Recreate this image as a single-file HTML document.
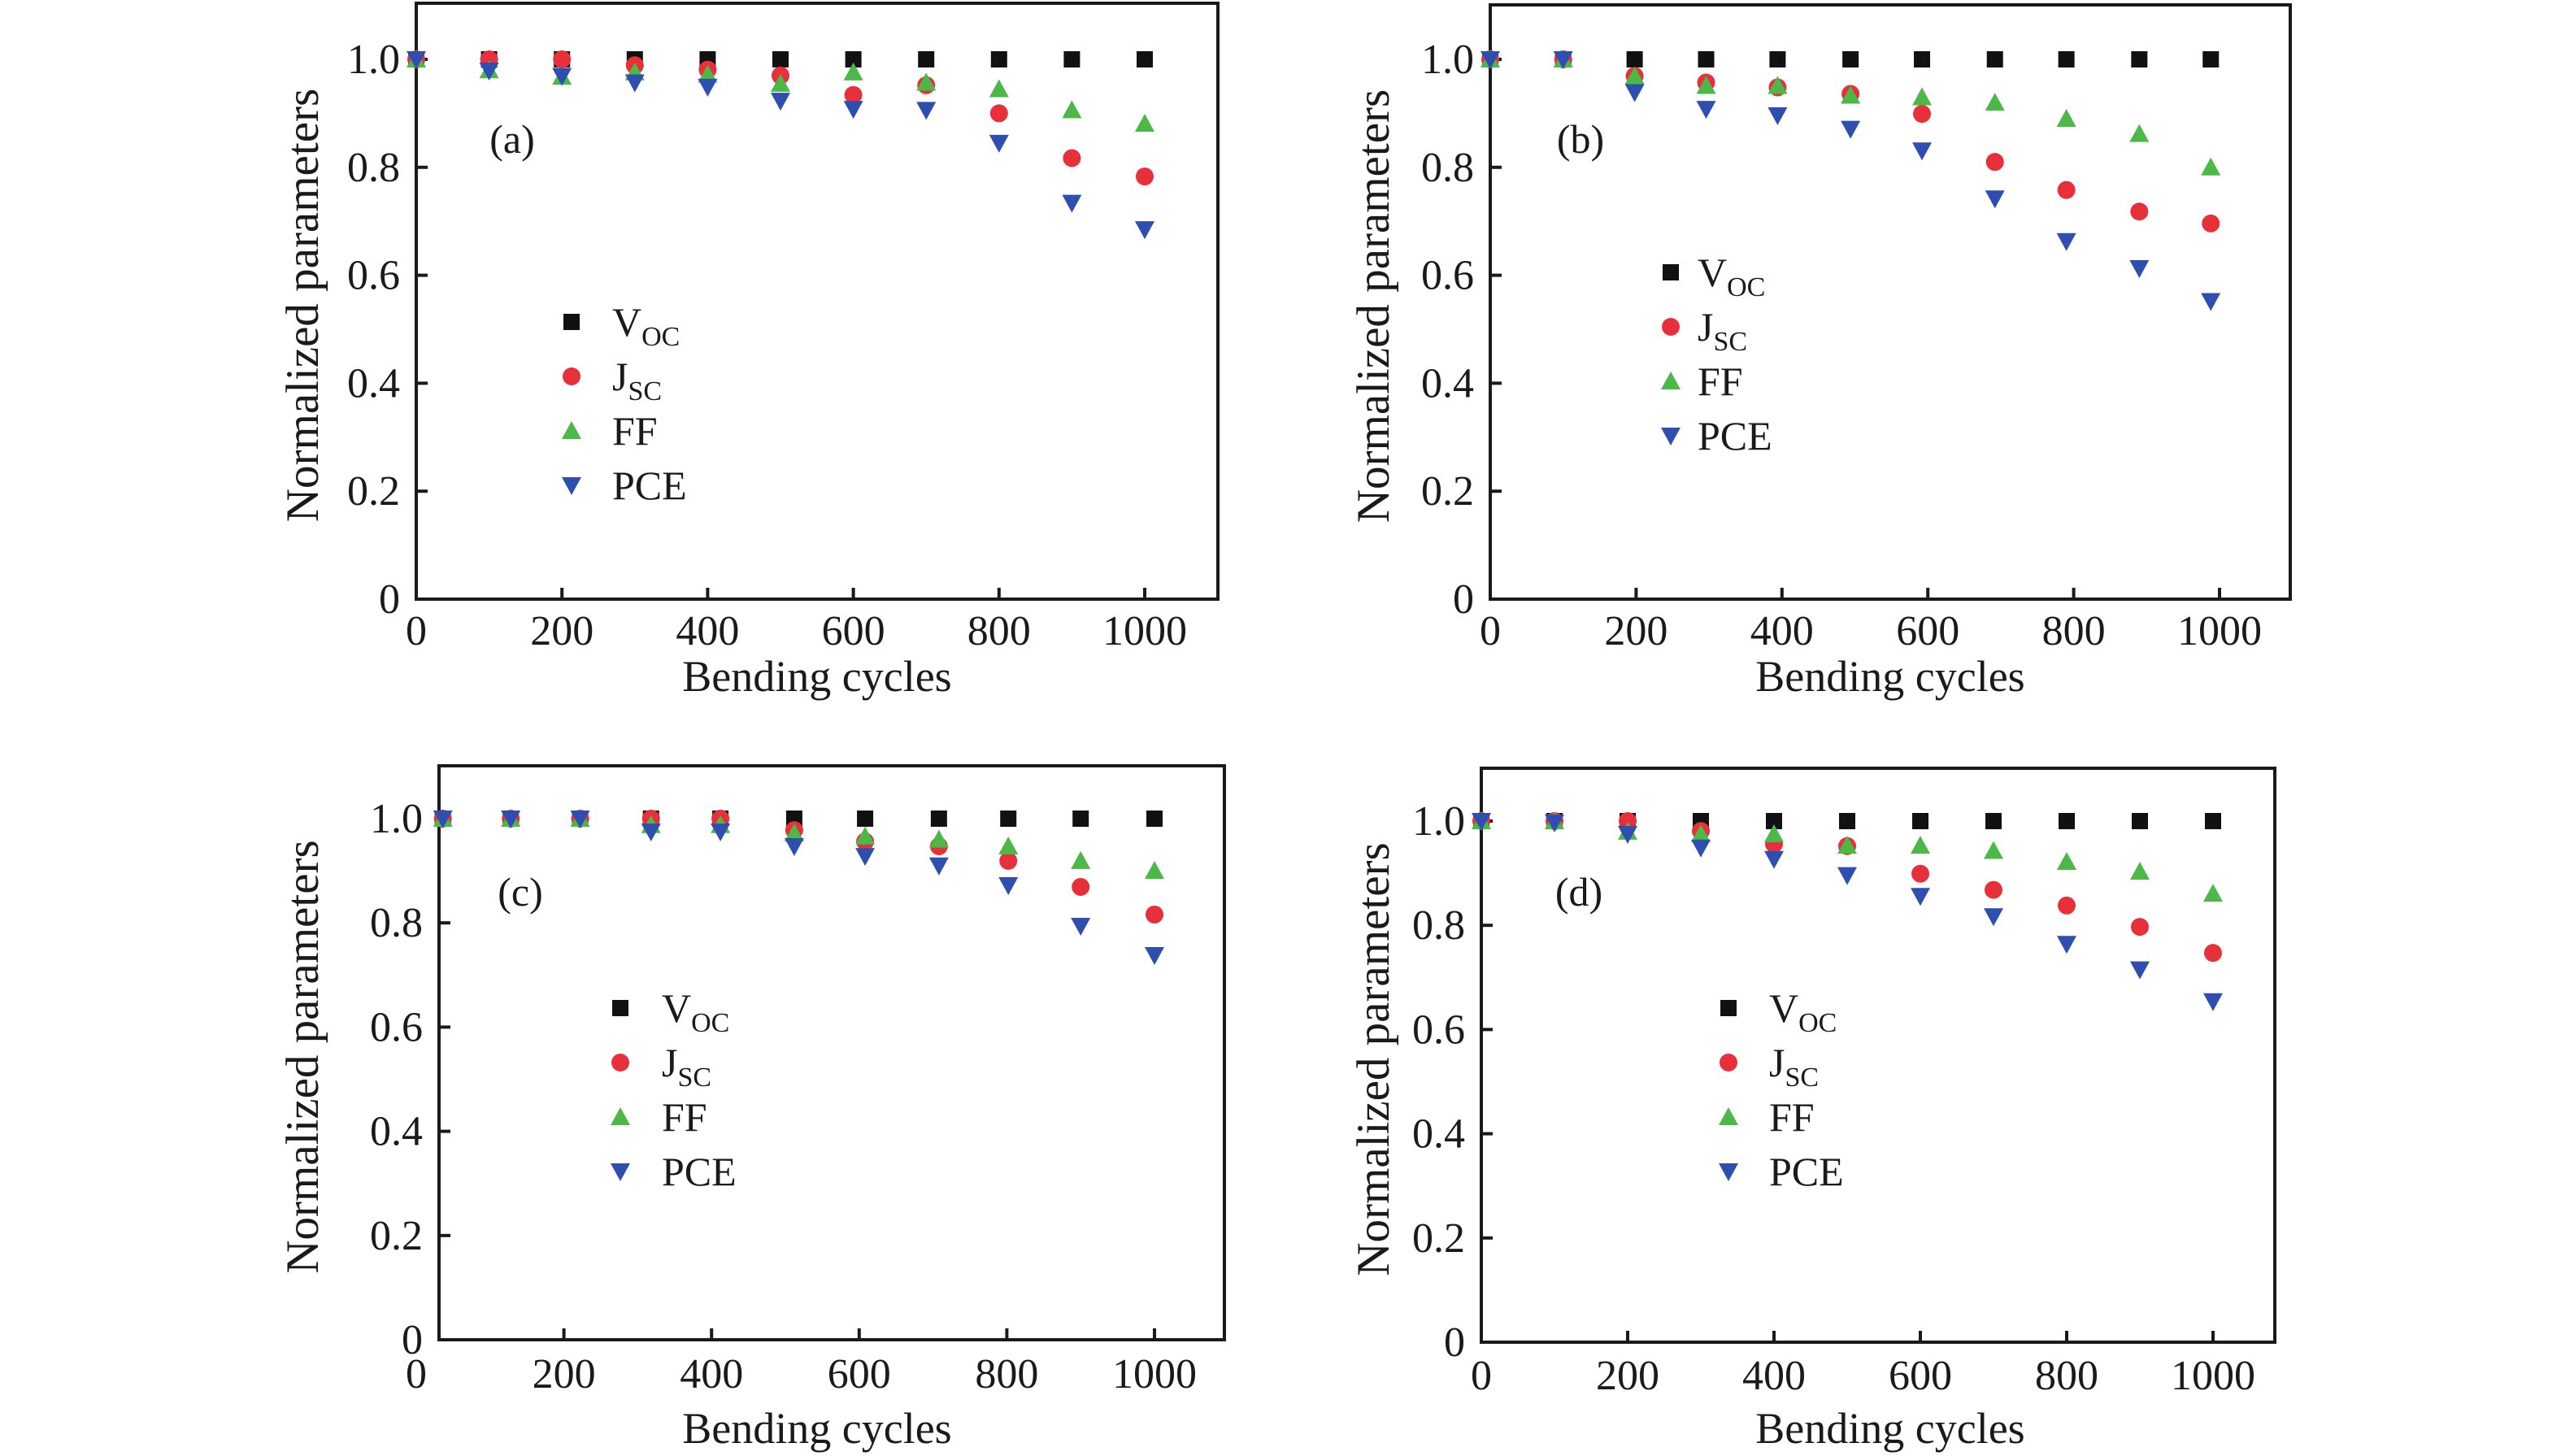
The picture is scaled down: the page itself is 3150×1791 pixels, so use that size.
<!DOCTYPE html>
<html><head><meta charset="utf-8"><style>
html,body{margin:0;padding:0;background:#fff;}
svg{display:block;font-family:"Liberation Serif","DejaVu Serif",serif;}
</style></head><body>
<svg id="fig" width="3150" height="1791" viewBox="0 0 3150 1791" xmlns="http://www.w3.org/2000/svg"></svg>
<script>
// x values (bending cycles)
const cyclesStd = [0,100,200,300,400,500,600,700,800,900,1000];
const cyclesB = [0,100,198,296,394,494,592,692,790,890,988];
const cyclesC = [36,128,222,318,412,512,608,708,802,900,1000];
const xTicks = [0,200,400,600,800,1000];
const yTicks = [0,0.2,0.4,0.6,0.8,1.0];
const yTickLabels = ["0","0.2","0.4","0.6","0.8","1.0"];
// panel (a)
const aVoc = [1,1,1,1,1,1,1,1,1,1,1];
const aJsc = [1,1.0,1.0,0.989,0.981,0.970,0.934,0.952,0.900,0.817,0.783];
const aFF  = [1,0.980,0.968,0.976,0.972,0.955,0.976,0.957,0.945,0.906,0.881];
const aPce = [1,0.979,0.969,0.957,0.949,0.923,0.908,0.906,0.845,0.734,0.685];
// panel (b)
const bVoc = [1,1,1,1,1,1,1,1,1,1,1];
const bJsc = [1,1,0.969,0.957,0.948,0.936,0.899,0.810,0.758,0.718,0.696];
const bFF  = [1,1,0.969,0.951,0.951,0.933,0.930,0.920,0.890,0.862,0.800];
const bPce = [1,1,0.939,0.908,0.896,0.871,0.831,0.742,0.663,0.613,0.552];
// panel (c)
const cVoc = [1,1,1,1,1,1,1,1,1,1,1];
const cJsc = [1,1,1,1.0,1.0,0.978,0.956,0.947,0.919,0.869,0.816];
const cFF  = [1,1,1,0.988,0.988,0.972,0.966,0.960,0.947,0.919,0.900];
const cPce = [1,1,1,0.975,0.975,0.947,0.928,0.910,0.872,0.794,0.738];
// panel (d)
const dVoc = [1,1,1,1,1,1,1,1,1,1,1];
const dJsc = [1,1,1.0,0.981,0.956,0.952,0.899,0.868,0.838,0.797,0.747];
const dFF  = [1,1,0.980,0.975,0.975,0.953,0.953,0.943,0.922,0.903,0.861];
const dPce = [1,0.997,0.975,0.949,0.927,0.896,0.856,0.817,0.764,0.715,0.654];

const NS = "http://www.w3.org/2000/svg";
const svg = document.getElementById('fig');
function mk(tag, attrs, parent){
  const e = document.createElementNS(NS, tag);
  for (const k in attrs) e.setAttribute(k, attrs[k]);
  (parent||svg).appendChild(e);
  return e;
}
const COL = {voc:'#111111', jsc:'#e8303a', ff:'#4cb848', pce:'#2e4fb0'};
function marker(g, type, cx, cy){
  let e;
  if (type==='voc'){ e = mk('rect',{x:cx-10,y:cy-10,width:20,height:20,fill:COL.voc},g); }
  else if (type==='jsc'){ e = mk('circle',{cx:cx,cy:cy,r:11,fill:COL.jsc},g); }
  else if (type==='ff'){ e = mk('polygon',{points:`${cx},${cy-12} ${cx+12},${cy+10} ${cx-12},${cy+10}`,fill:COL.ff},g); }
  else { e = mk('polygon',{points:`${cx-12},${cy-10} ${cx+12},${cy-10} ${cx},${cy+12}`,fill:COL.pce},g); }
  return e;
}
const panels = [
  {id:'a', L:512,T:4,R:1498,B:737, x0:512,x1k:1408, y0:737,y1:73, xs:cyclesStd,
   ser:{voc:aVoc,jsc:aJsc,ff:aFF,pce:aPce}, lab:[630,172], leg:[703,396,753], yt:372, xt:793, xtitle:[1005,850]},
  {id:'b', L:1833,T:6,R:2817,B:737, x0:1833,x1k:2730, y0:737,y1:73, xs:cyclesB,
   ser:{voc:bVoc,jsc:bJsc,ff:bFF,pce:bPce}, lab:[1944,172], leg:[2055,335,2088], yt:1689, xt:793, xtitle:[2325,850]},
  {id:'c', L:540,T:942,R:1506,B:1648, x0:512,x1k:1420, y0:1648,y1:1007, xs:cyclesC,
   ser:{voc:cVoc,jsc:cJsc,ff:cFF,pce:cPce}, lab:[640,1098], leg:[763,1240,814], yt:372, xt:1707, xtitle:[1005,1775]},
  {id:'d', L:1822,T:945,R:2798,B:1651, x0:1822,x1k:2722, y0:1651,y1:1010, xs:cyclesStd,
   ser:{voc:dVoc,jsc:dJsc,ff:dFF,pce:dPce}, lab:[1942,1098], leg:[2126,1240,2176], yt:1689, xt:1709, xtitle:[2325,1775]}
];
panels.forEach(p=>{
  const g = mk('g',{});
  
  
  const xf = v => p.x0 + (p.x1k-p.x0)*v/1000;
  const yf = v => p.y0 - (p.y0-p.y1)*v;
  const frame = mk('rect',{x:p.L,y:p.T,width:p.R-p.L,height:p.B-p.T,fill:'none',stroke:'#1a1a1a','stroke-width':4},g);
  
  
  xTicks.forEach(t=>{
    const x = xf(t);
    if (x > p.L+2) mk('line',{x1:x,y1:p.B,x2:x,y2:p.B-14,stroke:'#1a1a1a','stroke-width':4},g);
    const tl = mk('text',{x:x,y:p.xt,'font-size':52,'text-anchor':'middle',fill:'#1a1a1a'},g);
    tl.textContent = String(t);
    
    
  });
  yTicks.forEach((t,i)=>{
    const y = yf(t);
    if (i>0) mk('line',{x1:p.L,y1:y,x2:p.L+14,y2:y,stroke:'#1a1a1a','stroke-width':4},g);
    const tl = mk('text',{x:p.L-20,y:y+17,'font-size':52,'text-anchor':'end',fill:'#1a1a1a'},g);
    tl.textContent = yTickLabels[i];
    
    
  });
  const xt = mk('text',{x:p.xtitle[0],y:p.xtitle[1],'font-size':54,'text-anchor':'middle',fill:'#1a1a1a'},g);
  xt.textContent = 'Bending cycles';
  
  
  const cy = (p.T+p.B)/2 + 5;
  const yt = mk('text',{x:0,y:0,'font-size':57,'text-anchor':'middle',fill:'#1a1a1a',transform:`translate(${p.yt+19},${cy}) rotate(-90)`},g);
  yt.textContent = 'Normalized parameters';
  
  
  const pl = mk('text',{x:p.lab[0],y:p.lab[1]+16,'font-size':50,'text-anchor':'middle',fill:'#1a1a1a'},g);
  pl.textContent = '('+p.id+')';
  
  
  ['voc','jsc','ff','pce'].forEach(k=>{
    const sg = mk('g',{},g);
    
    
    p.ser[k].forEach((v,i)=>{
      const m = marker(sg,k,xf(p.xs[i]),yf(v));
      
      
    });
  });
  const lg = mk('g',{},g);
  
  
  const names = [['voc','V','OC'],['jsc','J','SC'],['ff','FF',''],['pce','PCE','']];
  names.forEach((n,i)=>{
    const y = p.leg[1] + i*67;
    const m = marker(lg,n[0],p.leg[0],y);
    
    
    const t = mk('text',{x:p.leg[2],y:y+17,'font-size':50,fill:'#1a1a1a'},lg);
    
    
    t.appendChild(document.createTextNode(n[1]));
    if (n[2]){
      const s = mk('tspan',{'font-size':34,dy:12},t);
      s.textContent = n[2];
    }
  });
});
</script>
</body></html>
